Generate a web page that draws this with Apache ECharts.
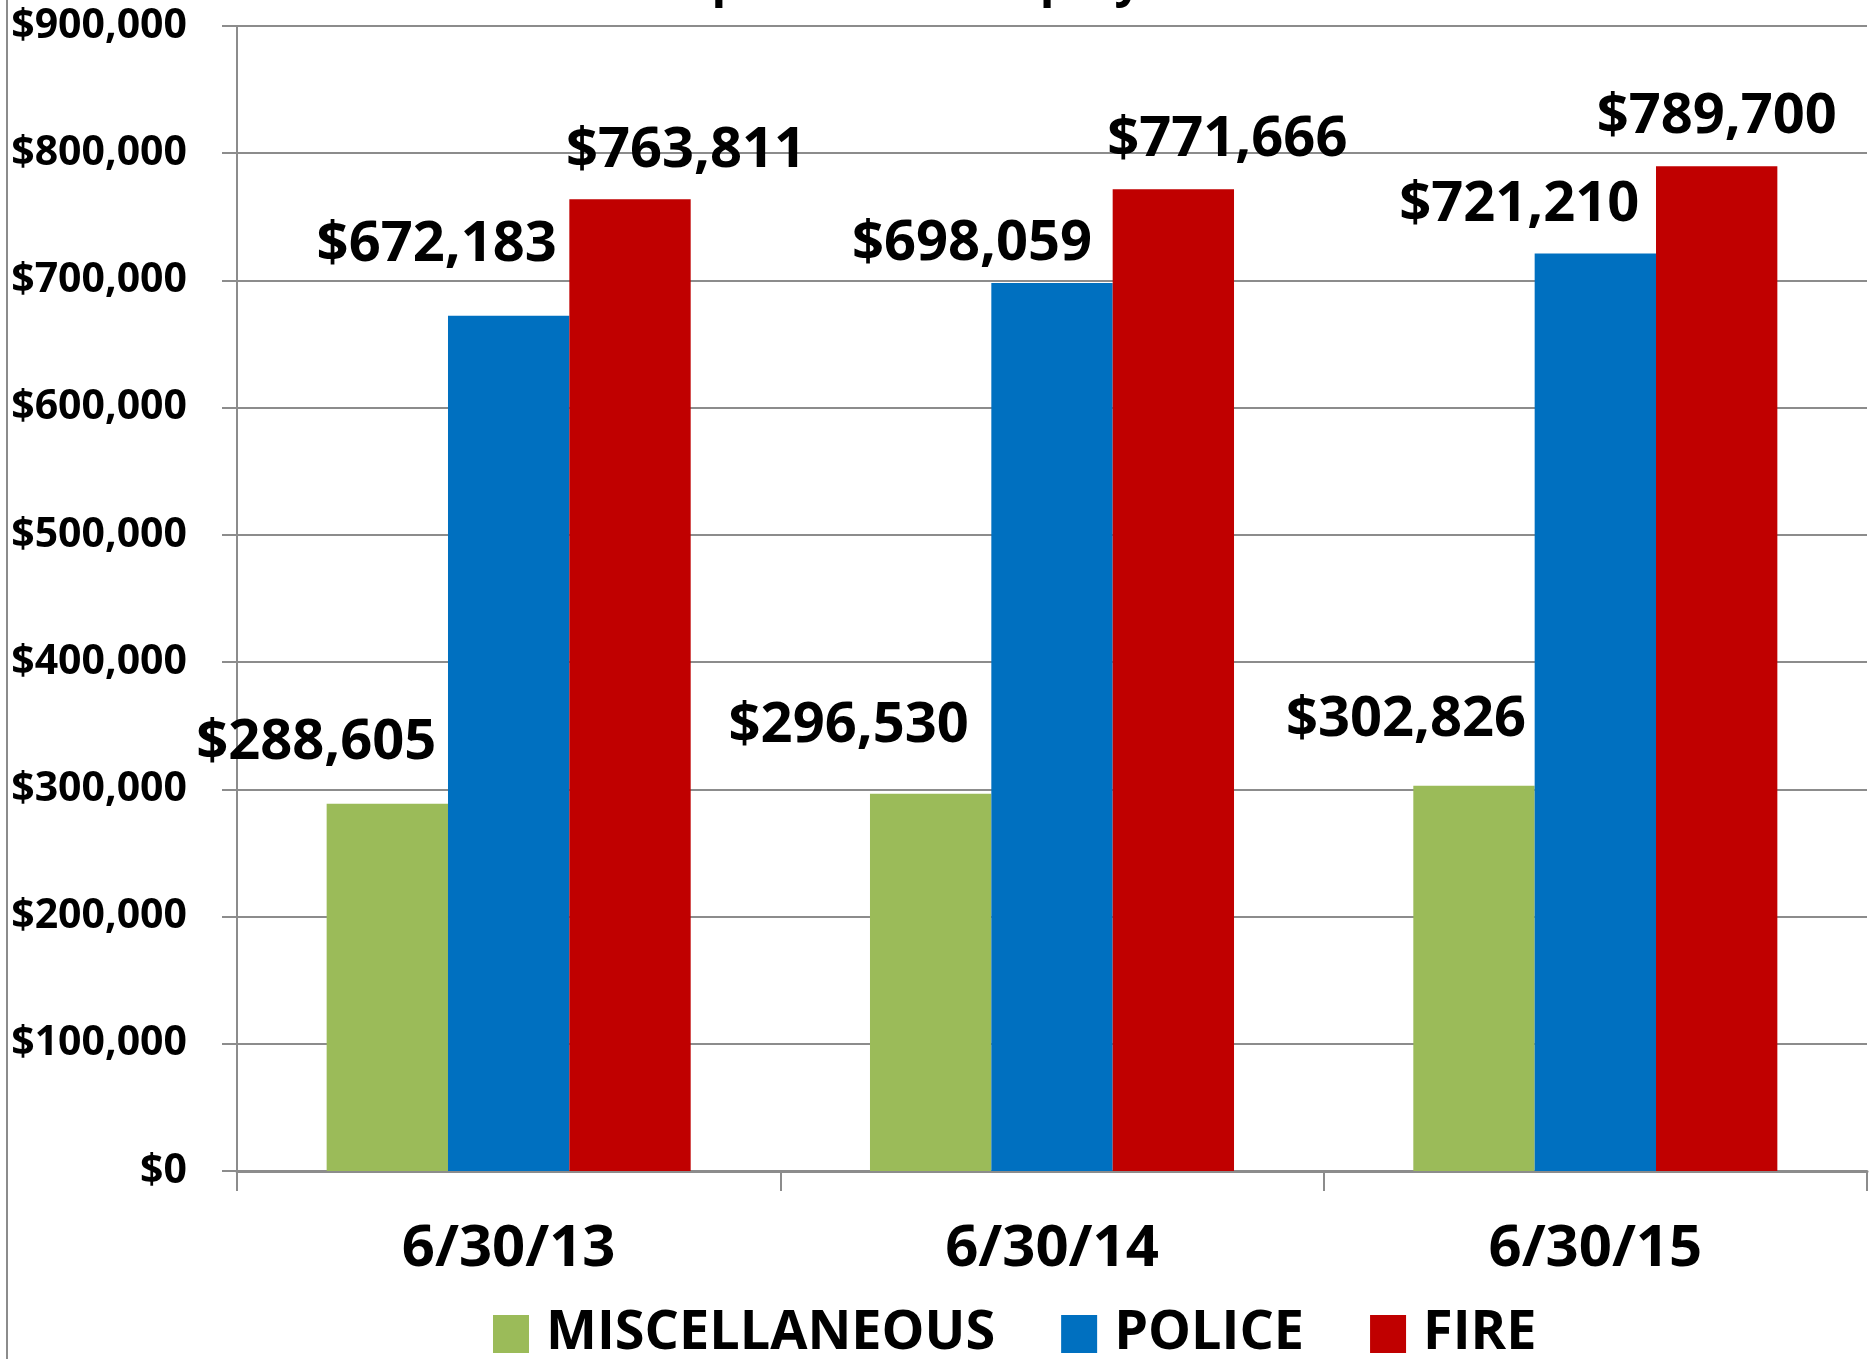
<!DOCTYPE html>
<html>
<head>
<meta charset="utf-8">
<title>Liability per Active Employee</title>
<script src="https://cdn.jsdelivr.net/npm/echarts@6/dist/echarts.min.js"></script>
<style>
  html, body { margin: 0; padding: 0; background: #fff; }
  #chart { width: 1869px; height: 1359px; }
</style>
</head>
<body>
<div id="chart"></div>
<script>
// valuation dates
const categories = ['6/30/13', '6/30/14', '6/30/15']
// per active employee, by plan
const miscValues = [288605, 296530, 302826]
const policeValues = [672183, 698059, 721210]
const fireValues = [763811, 771666, 789700]
const seriesNames = ['MISCELLANEOUS', 'POLICE', 'FIRE']
const yTicks = [0, 100000, 200000, 300000, 400000, 500000, 600000, 700000, 800000, 900000]

// where Excel dropped each data label, relative to the top of its bar
const labelNudge = {
  MISCELLANEOUS: [[-71, -33], [-82, -40], [-68, -38]],
  POLICE: [[-72, -43], [-80, -11], [-76, -20]],
  FIRE: [[56, -20], [54, -21], [0, -21]]
}

const colors = ['#9BBB59', '#0070C0', '#C00000']
const font = '"Open Sans", "Liberation Sans", sans-serif'
const money = v => '$' + Number(v).toLocaleString('en-US')

const chart = echarts.init(document.getElementById('chart'))

const makeSeries = (name, values, idx) => ({
  name,
  type: 'bar',
  barGap: '0%',
  barCategoryGap: '33%',
  itemStyle: { color: colors[idx] },
  data: values.map((v, i) => ({
    value: v,
    label: { offset: labelNudge[name][i] }
  })),
  label: {
    show: true,
    position: 'top',
    distance: 0,
    formatter: p => money(p.value),
    fontFamily: font,
    fontWeight: 'bold',
    fontSize: 56,
    color: '#000'
  },
  animation: false
})

const option = {
  textStyle: { fontFamily: font },
  grid: {
    left: 237,
    right: 2,
    top: 26,
    bottom: 188
  },
  legend: {
    left: 488,
    top: 1302,
    itemWidth: 36,
    itemHeight: 38,
    itemGap: 66,
    icon: 'rect',
    textStyle: {
      fontFamily: font,
      fontWeight: 'bold',
      fontSize: 54,
      color: '#000',
      padding: [0, 0, 0, 12]
    },
    data: seriesNames
  },
  xAxis: {
    type: 'category',
    data: categories,
    axisLine: { lineStyle: { color: '#8c8c8c', width: 3 } },
    axisTick: { show: true, length: 20, lineStyle: { color: '#8c8c8c', width: 2 } },
    axisLabel: {
      margin: 49,
      fontFamily: font,
      fontWeight: 'bold',
      fontSize: 58,
      color: '#000'
    }
  },
  yAxis: {
    type: 'value',
    min: yTicks[0],
    max: yTicks[yTicks.length - 1],
    interval: yTicks[1] - yTicks[0],
    axisLine: { show: true, lineStyle: { color: '#8c8c8c', width: 2 } },
    axisTick: { show: true, length: 15, lineStyle: { color: '#8c8c8c', width: 2 } },
    splitLine: { lineStyle: { color: '#8c8c8c', width: 2 } },
    axisLabel: {
      margin: 50,
      formatter: money,
      fontFamily: font,
      fontWeight: 'bold',
      fontSize: 41,
      color: '#000'
    }
  },
  graphic: [
    {
      // title sits above the crop; only its descenders show
      type: 'text',
      x: 955,
      y: 6,
      style: {
        text: 'per Active Employee',
        font: 'bold 48px ' + font,
        fill: '#000',
        textAlign: 'center',
        verticalAlign: 'bottom'
      }
    },
    {
      type: 'line',
      shape: { x1: 7, y1: 0, x2: 7, y2: 1359 },
      style: { stroke: '#8c8c8c', lineWidth: 2 }
    }
  ],
  series: [
    makeSeries(seriesNames[0], miscValues, 0),
    makeSeries(seriesNames[1], policeValues, 1),
    makeSeries(seriesNames[2], fireValues, 2)
  ]
}

chart.setOption(option)
</script>
</body>
</html>
